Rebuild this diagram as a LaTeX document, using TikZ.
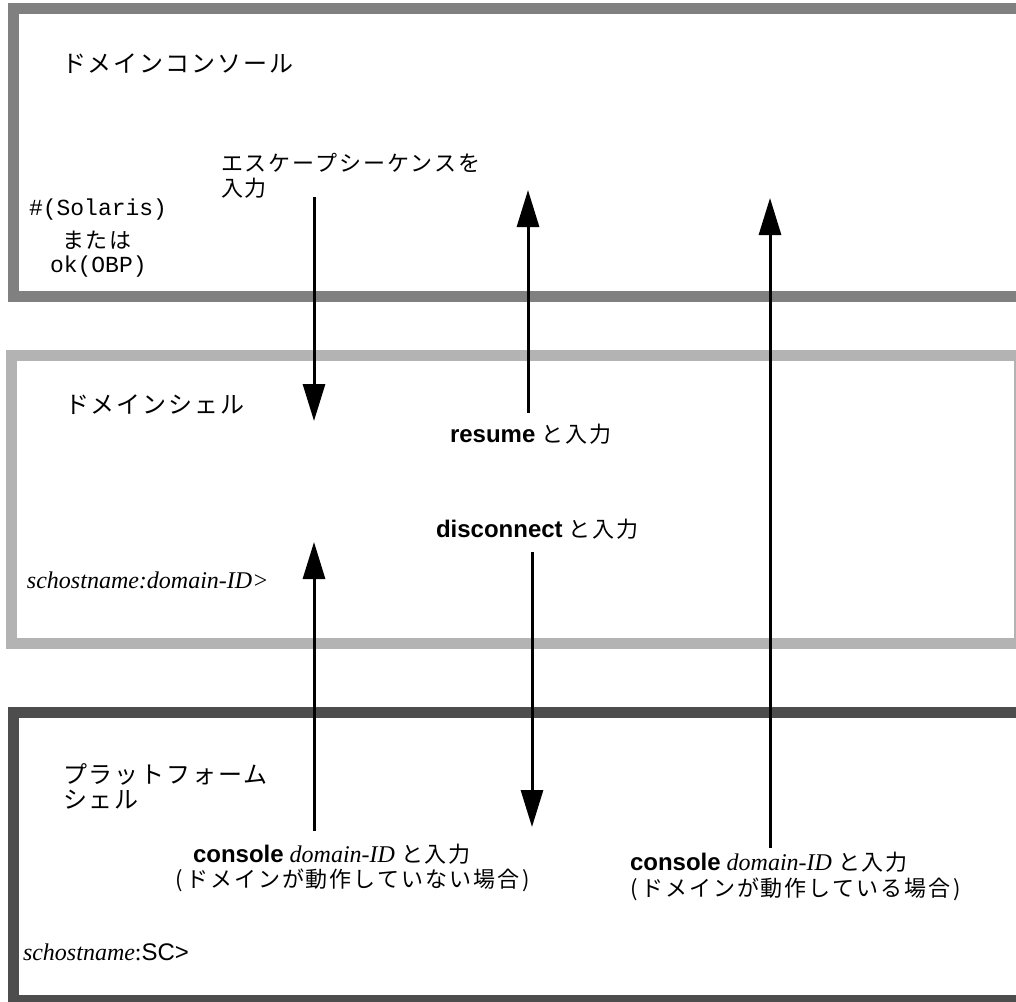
\documentclass[tikz,border=0pt]{standalone}
\usepackage{fontspec}
\setmainfont{Liberation Serif}
\setsansfont{Liberation Sans}
\setmonofont{Liberation Mono}
\newfontfamily\jplabel[LetterSpace=9]{Noto Sans CJK JP}
\newfontfamily\jphead[LetterSpace=8]{Noto Sans CJK JP}
\newcommand{\jptail}[1]{{\mdseries\upshape\fontsize{22}{26}\selectfont\jplabel #1}}
\usetikzlibrary{arrows.meta}
\definecolor{consolegray}{RGB}{128,128,128}
\definecolor{shellgray}{RGB}{179,179,179}
\definecolor{platgray}{RGB}{77,77,77}
\begin{document}
\begin{tikzpicture}[x=1pt,y=-1pt,
  layer/.style={draw, line width=11pt, inner sep=0pt, outer sep=0pt},
  txt/.style={anchor=base west, inner sep=0pt, outer sep=0pt},
  head/.style={txt, font=\fontsize{24}{26}\selectfont\jphead},
  jp/.style={txt, font=\fontsize{22}{26}\selectfont\jplabel},
  lat/.style={txt, font=\fontsize{24}{26}\selectfont},
  mono/.style={txt, font=\fontsize{23}{26}\selectfont\ttfamily},
  flow/.style={line width=3pt, -{Triangle[length=37pt,width=22pt]}}
]
\useasboundingbox (0,0) rectangle (1016,1001);

% layers
\node[layer, draw=consolegray, minimum width=1026.5pt, minimum height=288pt] (console) at (526.75,152.5) {};
\node[layer, draw=shellgray, minimum width=1008pt, minimum height=287.5pt] (dshell) at (515.5,499.25) {};
\node[layer, draw=platgray, minimum width=1026.5pt, minimum height=288pt] (pshell) at (526.75,856.5) {};

% domain console texts
\node[head] (conTitle) at (62,72) {ドメインコンソール};
\node[jp] (escA) at (221,171) {エスケープシーケンスを};
\node[jp] (escB) at (221,196) {入力};
\node[mono] (solaris) at (29,215) {\#(Solaris)};
\node[jp] (or) at (62,248) {または};
\node[mono] (obp) at (50,272) {ok(OBP)};

% domain shell texts
\node[head] (dsTitle) at (65,413) {ドメインシェル};
\node[lat] (resume) at (450,442) {\textsf{\bfseries resume} \jptail{と入力}};
\node[lat] (disc) at (436,537) {\textsf{\bfseries disconnect} \jptail{と入力}};
\node[lat] (dsPrompt) at (27,588) {\itshape schostname:domain-ID>};

% platform shell texts
\node[head] (psTitleA) at (63,783) {プラットフォーム};
\node[head] (psTitleB) at (63,808) {シェル};
\node[lat] (conOffA) at (193,862) {\textsf{\bfseries console} \textit{domain-ID} \jptail{と入力}};
\node[jp] (conOffB) at (175,887) {(\,ドメインが動作していない場合\,)};
\node[lat] (conOnA) at (630,870) {\textsf{\bfseries console} \textit{domain-ID} \jptail{と入力}};
\node[jp] (conOnB) at (630,896) {(\,ドメインが動作している場合\,)};
\node[lat] (psPrompt) at (23,960) {\textit{schostname}:\textsf{SC>}};

% arrow end points
\coordinate (escStart) at (314,197);
\coordinate (escEnd) at (314,421);
\coordinate (resStart) at (528,413);
\coordinate (resEnd) at (528,190);
\coordinate (onStart) at (770,848);
\coordinate (onEnd) at (770,198);
\coordinate (offStart) at (314,831);
\coordinate (offEnd) at (314,542);
\coordinate (discStart) at (532,552);
\coordinate (discEnd) at (532,827);

\draw[flow] (escStart) -- (escEnd);
\draw[flow] (resStart) -- (resEnd);
\draw[flow] (onStart) -- (onEnd);
\draw[flow] (offStart) -- (offEnd);
\draw[flow] (discStart) -- (discEnd);
\end{tikzpicture}
\end{document}
